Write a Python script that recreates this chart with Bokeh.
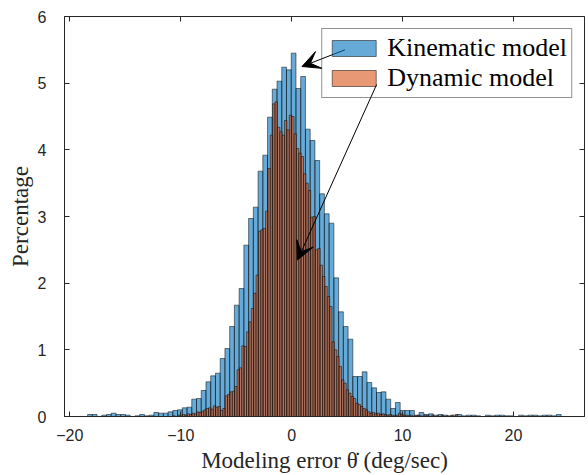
import numpy as np
from bokeh.plotting import figure
from bokeh.models import (ColumnDataSource, Range1d, FixedTicker, LinearAxis,
                          Legend, LegendItem, Arrow, VeeHead)
from bokeh.embed import file_html
from bokeh.resources import INLINE

# ---------------- data ----------------
BLUE_BIN_START = -18.4
BLUE_BIN_WIDTH = 0.427
blue_pct = [
    0.03, 0.03, 0.00, 0.02, 0.03, 0.05, 0.03, 0.03, 0.02, 0.00,
    0.01, 0.03, 0.01, 0.02, 0.06, 0.05, 0.05, 0.07, 0.09, 0.10,
    0.13, 0.14, 0.26, 0.27, 0.39, 0.52, 0.61, 0.65, 0.87, 1.02,
    1.35, 1.67, 1.92, 2.57, 2.97, 3.14, 3.68, 3.92, 4.49, 4.91,
    5.03, 5.24, 5.20, 5.45, 4.92, 5.10, 4.31, 4.14, 3.84, 3.34,
    3.04, 2.90, 2.08, 1.57, 1.35, 1.16, 0.60, 0.60, 0.67, 0.51,
    0.43, 0.36, 0.37, 0.26, 0.12, 0.21, 0.09, 0.09, 0.09, 0.02,
    0.06, 0.03, 0.04, 0.02, 0.03, 0.02, 0.01, 0.02, 0.03, 0.01,
    0.02, 0.02, 0.01, 0.00, 0.02, 0.01, 0.02, 0.02, 0.01, 0.01,
    0.00, 0.02, 0.01, 0.02, 0.02, 0.01, 0.02, 0.02, 0.01, 0.03,
]

ORANGE_BIN_START = -10.7
ORANGE_BIN_WIDTH = 0.214
orange_pct = [
    0.01, 0.00, 0.02, 0.01, 0.03, 0.02, 0.04, 0.03, 0.05, 0.04,
    0.07, 0.06, 0.08, 0.10, 0.12, 0.13, 0.11, 0.16, 0.14, 0.15,
    0.09, 0.12, 0.31, 0.33, 0.37, 0.38, 0.45, 0.70, 0.73, 1.06,
    1.05, 1.27, 1.42, 1.62, 1.85, 2.12, 2.78, 2.80, 2.82, 3.08,
    3.72, 4.22, 4.69, 4.72, 4.34, 4.27, 4.22, 4.44, 4.30, 4.52,
    4.50, 4.24, 4.02, 3.95, 3.90, 3.64, 3.50, 3.39, 2.99, 3.00,
    2.50, 2.52, 2.27, 2.10, 1.95, 1.80, 1.65, 1.12, 1.00, 0.90,
    0.75, 0.55, 0.50, 0.40, 0.35, 0.30, 0.27, 0.20, 0.18, 0.15,
    0.12, 0.10, 0.07, 0.05, 0.06, 0.04, 0.05, 0.03, 0.04, 0.03,
    0.02, 0.03, 0.02, 0.01, 0.02, 0.05, 0.03, 0.01, 0.02, 0.01,
    0.02, 0.00, 0.01, 0.02, 0.01, 0.00, 0.02, 0.01, 0.00, 0.02,
    0.00, 0.01, 0.00, 0.02, 0.00, 0.01, 0.00, 0.02, 0.00, 0.03,
]

x_ticks = [-20, -10, 0, 10, 20]
y_ticks = [0, 1, 2, 3, 4, 5, 6]
series_names = ["Kinematic model", "Dynamic model"]
x_label = "Modeling error \u03b8\u0307 (deg/sec)"
y_label = "Percentage"

# ---------------- build sources ----------------
def hist_source(start, width, vals):
    n = len(vals)
    left = start + width * np.arange(n)
    return ColumnDataSource(dict(left=left, right=left + width,
                                 top=np.array(vals), bottom=np.zeros(n)))

blue_src = hist_source(BLUE_BIN_START, BLUE_BIN_WIDTH, blue_pct)
orange_src = hist_source(ORANGE_BIN_START, ORANGE_BIN_WIDTH, orange_pct)

AX = "#262626"
SERIF = "Liberation Serif"
SANS = "Liberation Sans"

p = figure(width=588, height=475, output_backend="svg", toolbar_location=None,
           x_range=Range1d(-20.48, 26.4), y_range=Range1d(0, 6),
           min_border_left=64, min_border_right=4, min_border_top=16,
           min_border_bottom=58)
p.background_fill_color = "white"
p.border_fill_color = "white"
p.grid.visible = False
p.outline_line_color = AX
p.outline_line_width = 1

blue_r = p.quad(left="left", right="right", top="top", bottom="bottom",
                source=blue_src, fill_color="#0072BD", fill_alpha=0.6,
                line_color="black", line_width=0.5)
orange_r = p.quad(left="left", right="right", top="top", bottom="bottom",
                  source=orange_src, fill_color="#D95319", fill_alpha=0.6,
                  line_color="black", line_width=0.5)

# main axes
xa = p.xaxis[0]
ya = p.yaxis[0]
xa.ticker = FixedTicker(ticks=x_ticks)
ya.ticker = FixedTicker(ticks=y_ticks)
for ax in (xa, ya):
    ax.major_tick_in = 5
    ax.major_tick_out = 0
    ax.minor_tick_line_color = None
    ax.axis_line_color = AX
    ax.major_tick_line_color = AX
    ax.major_label_text_font = SANS
    ax.major_label_text_font_size = "16px"
    ax.major_label_text_color = AX
    ax.axis_label_text_font = SERIF
    ax.axis_label_text_font_size = "23px"
    ax.axis_label_text_font_style = "normal"
    ax.axis_label_text_color = AX
xa.axis_label = x_label
ya.axis_label = y_label
xa.major_label_standoff = 12
ya.major_label_standoff = 18
xa.axis_label_standoff = 4
ya.axis_label_standoff = 2

# mirrored ticks on top/right (box on), without labels
for loc, tk in (("above", x_ticks), ("right", y_ticks)):
    ax = LinearAxis(ticker=FixedTicker(ticks=tk))
    ax.major_tick_in = 5
    ax.major_tick_out = 0
    ax.minor_tick_line_color = None
    ax.major_label_text_font_size = "1px"
    ax.major_label_text_color = None
    ax.major_label_standoff = 0
    ax.axis_line_color = None
    ax.major_tick_line_color = AX
    p.add_layout(ax, loc)

# legend with transparent background (the plot area behind it is empty),
# so the annotation arrows stay visible through it
legend = Legend(items=[LegendItem(label=series_names[0], renderers=[blue_r]),
                       LegendItem(label=series_names[1], renderers=[orange_r])],
                location="top_right")
legend.label_text_font = SERIF
legend.label_text_font_size = "26px"
legend.label_text_color = "black"
legend.glyph_width = 55
legend.glyph_height = 20
legend.label_height = 20
legend.label_standoff = 6
legend.spacing = 0
legend.padding = 4
legend.margin = 12
legend.border_line_color = AX
legend.border_line_width = 1
legend.background_fill_alpha = 0
p.add_layout(legend)

# annotation arrows
for (xs, ys, xe, ye) in ((4.8, 5.5, 0.93, 5.25), (7.66, 4.98, 0.54, 2.35)):
    arr = Arrow(x_start=xs, y_start=ys, x_end=xe, y_end=ye,
                line_color="black", line_width=1,
                end=VeeHead(size=18, fill_color="black", line_color="black"))
    arr.level = "overlay"
    p.add_layout(arr)

open("out.html", "w").write(file_html(p, INLINE))
